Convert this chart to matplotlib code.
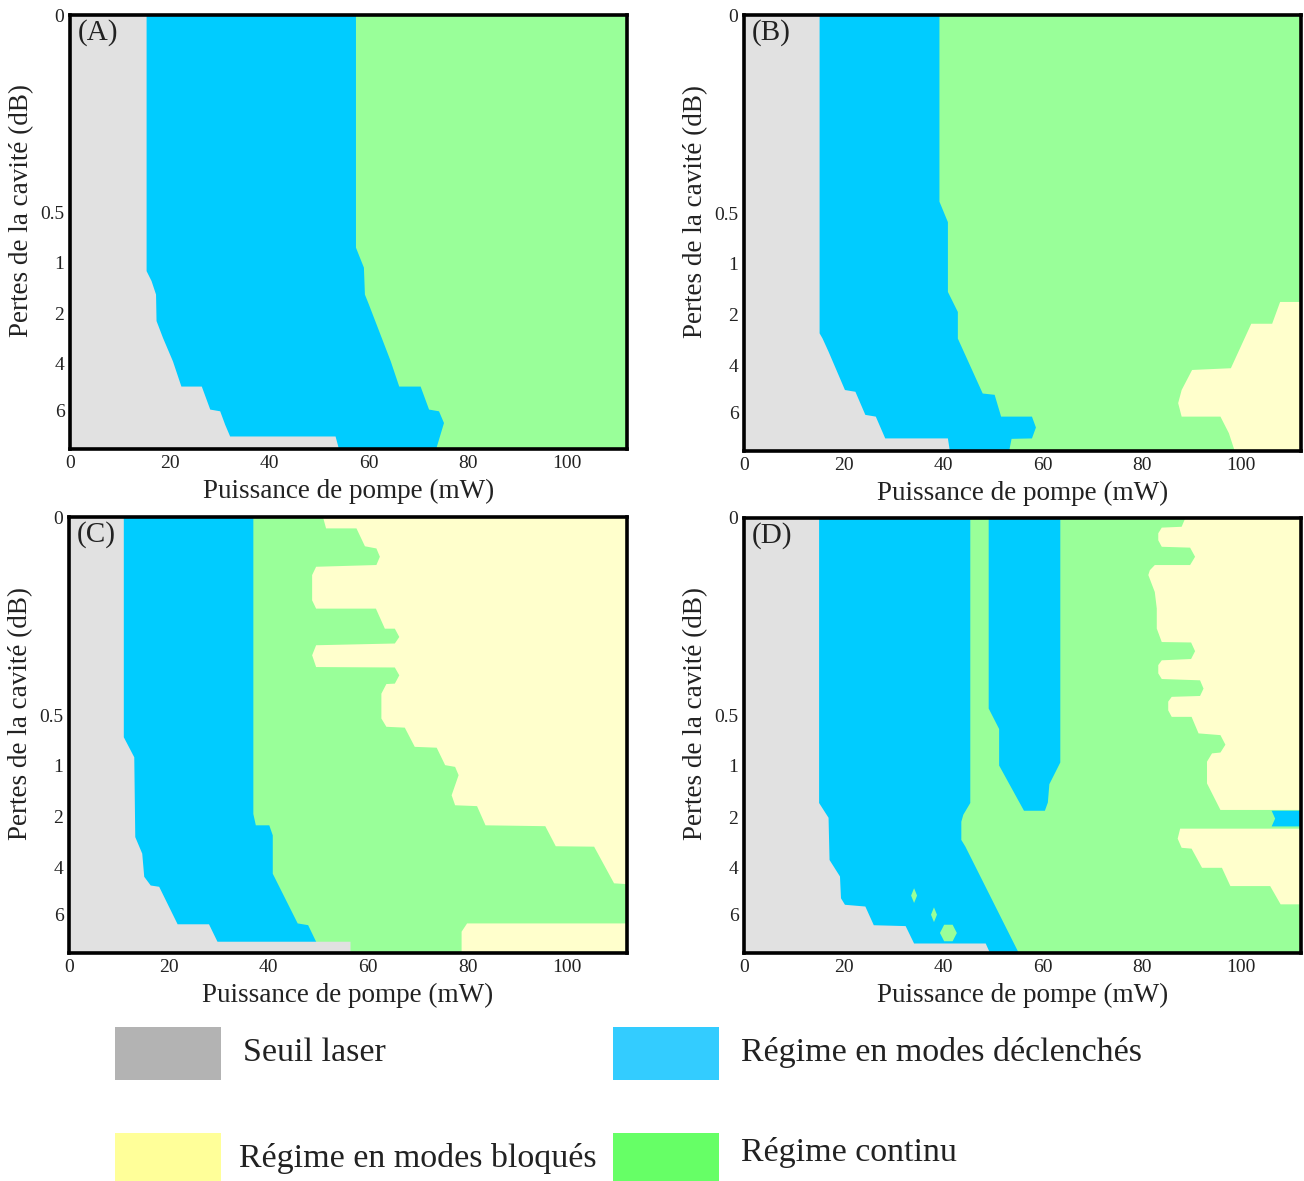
import matplotlib
matplotlib.use("Agg")
import matplotlib.pyplot as plt
from matplotlib.patches import Rectangle

plt.rcParams['font.family'] = ['Liberation Serif', 'DejaVu Serif']

W, H = 1304, 1181

# regime colours (maps) and legend colours
c_seuil, c_qs, c_cw, c_ml = "#e1e1e1", "#00ccff", "#99ff99", "#ffffcc"
leg_colors = ["#b3b3b3", "#33ccff", "#ffff99", "#66ff66"]
leg_labels = ["Seuil laser", "Régime en modes déclenchés",
              "Régime en modes bloqués", "Régime continu"]

p_max = 112  # mW at right edge
power_ticks = [0, 20, 40, 60, 80, 100]
# loss axis is not linear: tick positions in % of the axis height (from top)
loss_ticks = [0, 45.5, 57.0, 68.8, 80.3, 91.2]
loss_labels = ["0", "0.5", "1", "2", "4", "6"]

# boundaries as (pump power mW, loss position %)
# ---- (A)
a_seuil = [(15.3, 0), (15.3, 58.9), (16.3, 61.2), (17.2, 64.3), (17.3, 70.4), (18.6, 74.3),
           (20.6, 79.7), (22.3, 85.5), (26.4, 85.5), (28.1, 90.8), (30.1, 91.2), (31.1, 94.3),
           (32.1, 97.0), (53.3, 97.0), (54.0, 100)]
a_qs = [(57.4, 0), (57.4, 53.5), (59.0, 58.1), (59.2, 64.3), (60.0, 66.6), (64.4, 79.7),
        (66.1, 85.5), (70.4, 85.5), (72.1, 90.8), (74.1, 91.2), (75.1, 93.9), (73.5, 100)]
# ---- (B)
b_seuil = [(15.1, 0), (15.1, 72.9), (15.7, 74.1), (16.9, 77.1), (20.2, 85.9), (22.3, 86.3),
           (24.3, 91.6), (26.4, 92.0), (28.3, 97.0), (40.9, 97.0), (41.3, 100)]
b_qs = [(39.2, 0), (39.2, 42.7), (40.9, 47.4), (40.9, 63.4), (42.9, 68.0), (42.9, 74.1),
        (47.9, 86.7), (50.3, 87.0), (51.6, 92.0), (57.8, 92.0), (58.6, 94.5), (57.8, 97.0),
        (53.7, 97.1), (53.2, 100)]
b_ml = [(112, 65.7), (107.7, 65.7), (106.1, 70.7), (101.9, 70.7), (97.8, 80.9), (90.0, 81.3),
        (87.9, 85.9), (87.2, 88.9), (87.9, 92.0), (95.7, 92.0), (97.4, 95.8), (98.6, 100)]
# ---- (C)
c_seuil_b = [(10.9, 0), (10.9, 50.4), (13.0, 55.0), (13.2, 73.3), (14.6, 77.1), (15.0, 82.4),
             (16.3, 84.4), (18.0, 84.7), (21.7, 93.3), (28.0, 93.3), (29.7, 97.3), (56.4, 97.3),
             (56.4, 100)]
c_qs_b = [(36.9, 0), (36.9, 68.0), (37.4, 70.6), (40.1, 70.6), (40.8, 72.9), (40.8, 81.7),
          (45.8, 93.1), (47.9, 93.5), (49.5, 97.3), (49.5, 100)]
c_ml_b = [(50.9, 0), (51.5, 2.5), (57.6, 2.5), (59.3, 6.6), (61.6, 7.1), (62.3, 9.0), (61.6, 10.9),
          (49.5, 11.3), (48.7, 13.2), (48.7, 19.0), (49.5, 20.9), (61.5, 20.9), (63.3, 25.5),
          (65.3, 25.5), (66.2, 27.4), (65.3, 28.9), (49.5, 29.3), (48.7, 31.6), (49.5, 34.3),
          (65.3, 34.4), (66.2, 36.2), (65.3, 38.1), (63.6, 38.2), (62.6, 40.4), (62.6, 46.1),
          (63.6, 48.0), (67.3, 48.2), (69.3, 52.6), (73.7, 52.8), (75.4, 56.8), (77.4, 57.2),
          (78.1, 59.1), (76.7, 63.7), (77.4, 66.0), (81.8, 66.2), (83.5, 70.6), (95.5, 70.8),
          (97.6, 75.4), (105.3, 75.5), (109.3, 83.9), (112, 84.1), (112, 93.1), (79.8, 93.1),
          (78.7, 95.0), (78.7, 100)]
# ---- (D)
d_seuil = [(15.0, 0), (15.0, 65.4), (16.9, 68.8), (17.1, 78.5), (19.2, 82.3), (19.4, 87.3),
           (20.2, 88.8), (24.3, 89.2), (26.0, 93.5), (32.4, 93.7), (34.1, 97.7), (48.5, 97.7),
           (49.4, 100)]
d_qs = [(45.4, 0), (45.4, 65.4), (44.0, 68.1), (43.6, 69.7), (43.6, 73.9), (44.4, 75.4), (55.2, 100)]
d_qs_column = [(49.2, 0), (63.6, 0), (63.6, 56.2), (61.4, 61.2), (61.1, 65.4), (60.5, 67.3),
               (56.3, 67.3), (51.3, 56.9), (51.3, 48.5), (49.2, 43.8)]
d_qs_patch = [(106.1, 67.3), (112, 67.3), (112, 70.9), (106.1, 70.9), (106.8, 69.1)]
d_ml_top = [(88.6, 0), (87.9, 1.9), (83.9, 2.1), (83.2, 3.4), (83.2, 5.0), (83.9, 6.5), (89.6, 6.7),
            (90.6, 8.8), (89.6, 10.7), (82.5, 10.7), (81.5, 11.9), (81.2, 13.0), (82.5, 16.9),
            (82.9, 20.7), (82.9, 25.3), (83.9, 28.4), (89.8, 28.5), (90.6, 30.5), (89.8, 32.3),
            (83.9, 32.6), (83.2, 33.7), (83.2, 35.6), (83.9, 36.9), (91.6, 37.2), (92.3, 39.1),
            (91.6, 40.8), (85.9, 41.0), (85.2, 42.1), (85.2, 44.1), (85.9, 45.6), (89.9, 45.6),
            (91.3, 49.4), (95.7, 49.8), (96.7, 52.0), (95.7, 53.8), (94.0, 54.0), (93.0, 55.9),
            (93.0, 60.9), (95.7, 67.0), (112, 67.0)]
d_ml_low = [(87.6, 71.3), (87.1, 73.6), (87.9, 75.7), (89.9, 75.9), (92.0, 80.3), (96.0, 80.3),
            (97.7, 84.5), (105.7, 84.5), (107.8, 88.7), (112, 88.7)]
# small continuous-wave islands: centre power, centre loss, half width, half height
d_cw_islands = [(34.2, 86.8, 0.6, 1.7), (38.2, 91.2, 0.6, 1.7), (41.1, 95.4, 1.7, 1.9)]

panels = [
    ("(A)", (70, 15, 627, 449), a_seuil, a_qs, [], [], []),
    ("(B)", (744, 15, 1301, 451), b_seuil, b_qs, [], [b_ml], []),
    ("(C)", (69, 517, 627, 953), c_seuil_b, c_qs_b, [], [c_ml_b], []),
    ("(D)", (744, 518, 1301, 953), d_seuil, d_qs, [d_qs_column, d_qs_patch],
     [d_ml_top, d_ml_low], d_cw_islands),
]


def fill_left(ax, pts, color):
    ax.fill_betweenx([p[1] for p in pts], 0, [p[0] for p in pts], color=color, lw=0)


def fill_right(ax, pts, color):
    ax.fill_betweenx([p[1] for p in pts], [p[0] for p in pts], p_max, color=color, lw=0)


fig = plt.figure(figsize=(W / 100, H / 100), dpi=100)

for label, (l, t, r, b), seuil, qs, qs_extra, ml, islands in panels:
    ax = fig.add_axes([l / W, 1 - b / H, (r - l) / W, (b - t) / H])
    ax.set_facecolor(c_cw)
    fill_left(ax, qs, c_qs)
    fill_left(ax, seuil, c_seuil)
    for poly in qs_extra:
        ax.fill([p[0] for p in poly], [p[1] for p in poly], color=c_qs, lw=0)
    for bnd in ml:
        fill_right(ax, bnd, c_ml)
    for xc, yc, hw, hh in islands:
        # octagon-like blob, pointed for the thin ones
        xs = [xc - hw, xc - hw * 0.5, xc + hw * 0.5, xc + hw, xc + hw * 0.5, xc - hw * 0.5]
        ys = [yc, yc - hh, yc - hh, yc, yc + hh, yc + hh]
        if hw < 1:
            xs = [xc - hw, xc, xc + hw, xc]
            ys = [yc, yc - hh, yc, yc + hh]
        ax.fill(xs, ys, color=c_cw, lw=0)

    ax.set_xlim(0, p_max)
    ax.set_ylim(100, 0)
    ax.set_xticks(power_ticks)
    ax.set_yticks(loss_ticks)
    ax.set_yticklabels(loss_labels)
    ax.tick_params(length=0, labelsize=14, pad=4, colors="#222222")
    for s in ax.spines.values():
        s.set_linewidth(2.6)
        s.set_color("black")
    ax.set_xlabel("Puissance de pompe (mW)", fontsize=19.5, labelpad=5, color="#222222")
    ax.set_ylabel("Pertes de la cavité (dB)", fontsize=19.5, color="#222222")
    ax.yaxis.set_label_coords(-0.064, 0.55)
    ax.text(0.014, 0.99, label, transform=ax.transAxes, ha="left", va="top",
            fontsize=21, color="#222222")

# legend drawn in figure pixels
leg_boxes = [(115, 1027), (613, 1027), (115, 1133), (613, 1133)]
leg_text_x = [243, 741, 239, 741]
leg_text_y = [1053, 1053, 1158, 1152]
for (bx, by), col in zip(leg_boxes, leg_colors):
    fig.add_artist(Rectangle((bx / W, 1 - (by + 53) / H), 106 / W, 53 / H,
                             transform=fig.transFigure, color=col, lw=0))
for txt, tx, ty in zip(leg_labels, leg_text_x, leg_text_y):
    fig.text(tx / W, 1 - ty / H, txt, ha="left", va="center", fontsize=24.5, color="#222222")

fig.savefig("out.png", dpi=100)
